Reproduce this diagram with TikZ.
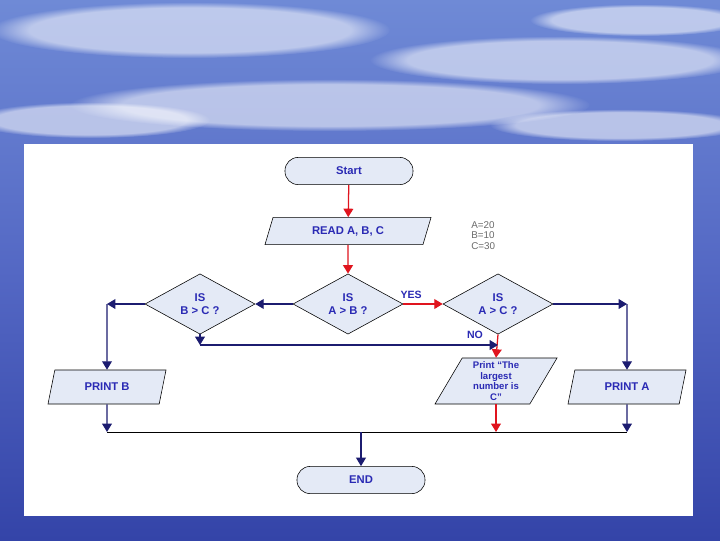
\documentclass[tikz,border=0pt]{standalone}
\usepackage{fontspec}
\setmainfont{Liberation Sans}
\usetikzlibrary{shapes.geometric,arrows.meta,fadings}

\definecolor{flowNavy}{HTML}{1C1C70}
\definecolor{flowRed}{HTML}{E0141E}
\definecolor{flowText}{HTML}{2A2AB4}
\definecolor{flowFill}{HTML}{E4EAF6}
\definecolor{flowGray}{HTML}{6A6A6A}
\definecolor{skyTop}{HTML}{6F8AD6}
\definecolor{skyMid}{HTML}{5468C4}
\definecolor{skyLow}{HTML}{3444A8}

\tikzset{
  termbox/.style={draw=black,fill=flowFill,rounded corners=0.33cm,minimum width=3.2cm,
    minimum height=0.68cm,text=flowText},
  iobox/.style={trapezium,trapezium left angle=57,trapezium right angle=123,
    trapezium stretches body,draw=black,fill=flowFill,text=flowText,align=center,inner sep=1pt},
  decbox/.style={diamond,draw=black,fill=flowFill,text=flowText,align=center,inner sep=0pt,
    minimum width=2.75cm,minimum height=1.33cm},
  redflow/.style={draw=flowRed,line width=0.9pt,-{Triangle[length=6pt,width=7pt]}},
  navyflow/.style={draw=flowNavy,line width=0.8pt,-{Triangle[length=6pt,width=7pt]}},
  flowlabel/.style={text=flowText,font=\fontsize{7.5}{8}\selectfont\bfseries},
  cloud/.style={white,opacity=0.55,path fading=circle with fuzzy edge 20 percent},
}

\begin{document}
\begin{tikzpicture}[x=0.025cm,y=-0.025cm,font=\fontsize{8}{9.5}\selectfont\bfseries]
  \useasboundingbox (0,0) rectangle (720,540);
  % sky behind the slide
  \shade[top color=skyTop,bottom color=skyLow,middle color=skyMid] (0,0) rectangle (720,540);
  \fill[cloud] (190,30) ellipse (200 and 28);
  \fill[cloud] (560,60) ellipse (190 and 24);
  \fill[cloud] (330,105) ellipse (260 and 26);
  \fill[cloud] (640,20) ellipse (110 and 16);
  \fill[cloud] (90,120) ellipse (120 and 18);
  \fill[cloud] (620,125) ellipse (130 and 16);
  \fill[white] (24,144) rectangle (693,516);

  \node[termbox] (start) at (349,171) {Start};
  \node[iobox,minimum width=4.15cm,minimum height=0.68cm] (read) at (348,231) {READ A, B, C};
  \node[anchor=north west,align=left,text=flowGray,font=\fontsize{7}{7.6}\selectfont,inner sep=0pt]
    (vals) at (471,221) {A=20\\B=10\\C=30};

  \node[decbox] (ab) at (348,304) {IS\\A > B ?};
  \node[decbox] (bc) at (200,304) {IS\\B > C ?};
  \node[decbox] (ac) at (498,304) {IS\\A > C ?};

  \node[iobox,minimum width=2.95cm,minimum height=0.85cm] (printb) at (107,387) {PRINT B};
  \node[iobox,minimum width=3.05cm,minimum height=1.15cm,font=\fontsize{6.8}{7.6}\selectfont\bfseries]
    (printc) at (496,381) {Print “The\\largest\\number is\\C”};
  \node[iobox,minimum width=2.95cm,minimum height=0.85cm] (printa) at (627,387) {PRINT A};

  \node[termbox] (stop) at (361,480) {END};

  \coordinate (bcl) at (107,304);
  \coordinate (acr) at (627,304);
  \coordinate (bcd) at (200,345);
  \coordinate (acd) at (ac.south |- bcd);
  \coordinate (jb) at (107,432);
  \coordinate (jc) at (printc.south |- jb);
  \coordinate (ja) at (627,432);
  \coordinate (jm) at (stop.north |- jb);

  \draw[redflow] (start) -- (read);
  \draw[redflow] (read) -- (ab);
  \draw[redflow] (ab.east) -- node[flowlabel,above,pos=0.2] (yes) {YES} (ac.west);
  \draw[redflow] (ac.south) -- node[flowlabel,anchor=east,pos=0,xshift=-7pt] (no) {NO} (printc.north);
  \draw[navyflow] (ab.west) -- (bc.east);
  \draw[navyflow] (bc.west) -- (bcl);
  \draw[navyflow] (bcl) -- (printb.north);
  \draw[navyflow] (ac.east) -- (acr);
  \draw[navyflow] (acr) -- (printa.north);
  \draw[navyflow] (bc.south) -- (bcd);
  \draw[navyflow] (bcd) -- (acd);

  \draw[navyflow] (printb.south) -- (jb);
  \draw[redflow] (printc.south) -- (jc);
  \draw[navyflow] (printa.south) -- (ja);
  \draw[black,line width=0.6pt] (jb) -- (ja);
  \draw[navyflow] (jm) -- (stop.north);
\end{tikzpicture}
\end{document}
